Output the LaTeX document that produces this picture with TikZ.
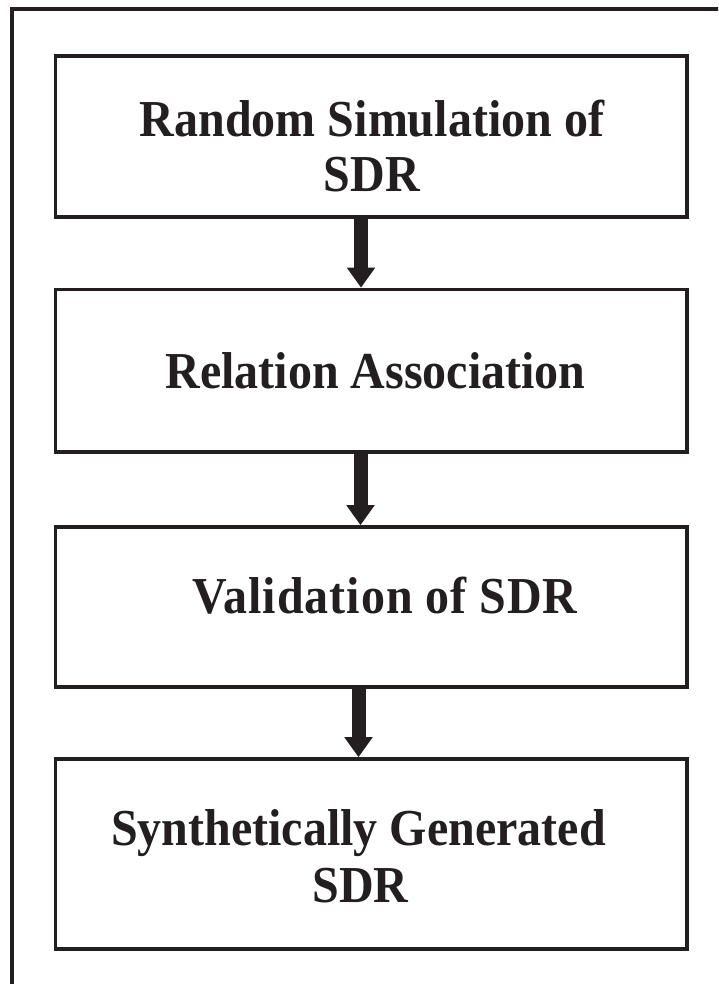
\documentclass[tikz,border=0pt]{standalone}
\usepackage{fontspec}
\setmainfont{Liberation Serif}
\usetikzlibrary{arrows.meta}
\definecolor{ink}{HTML}{231F20}
\tikzset{
  stepbox/.style={draw=ink, line width=3.6pt, inner sep=0pt,
    minimum width=631.5pt, fill=white},
  steptext/.style={anchor=base, inner sep=0pt, text=ink,
    font=\fontsize{48}{57}\selectfont\bfseries},
  flow/.style={draw=ink, line width=14pt,
    -{Triangle[width=27pt,length=20pt]}},
  frame/.style={draw=ink, line width=4pt},
}
\newcommand\tallline[1]{\scalebox{1}[1.08]{#1}}
\begin{document}
\begin{tikzpicture}[x=1pt, y=-1pt]
  \clip (0,0) rectangle (718,984);
  \fill[white] (0,0) rectangle (718,984);
  % outer frame, only its top and left sides fall inside the page
  \draw[frame] (12,1000) -- (12,9.5) -- (740,9.5);

  % the four process steps
  \node[stepbox, minimum height=161pt] (b1) at (371.25,136.5) {};
  \node[stepbox, minimum height=162.5pt] (b2) at (371.25,370.75) {};
  \node[stepbox, minimum height=160pt] (b3) at (371.25,607) {};
  \node[stepbox, minimum height=190pt] (b4) at (371.25,854) {};

  \node[steptext] (t1a) at (372,137) {\tallline{Random Simulation of}};
  \node[steptext] (t1b) at (372,192) {\tallline{SDR}};
  \node[steptext] (t2)  at (375.5,388) {\tallline{Relation Association}};
  \node[steptext] (t3)  at (385,613)
    {\addfontfeature{LetterSpace=2}\tallline{Validation of SDR}};
  \node[steptext] (t4a) at (358.5,845) {\tallline{Synthetically Generated}};
  \node[steptext] (t4b) at (360.5,902) {\tallline{SDR}};

  % connectors between consecutive steps
  \draw[flow] (b1.south -| 361,0) -- (b2.north -| 361,0);
  \draw[flow] (b2.south -| 360.5,0) -- (b3.north -| 360.5,0);
  \draw[flow] (b3.south -| 358.5,0) -- (b4.north -| 358.5,0);
\end{tikzpicture}
\end{document}
